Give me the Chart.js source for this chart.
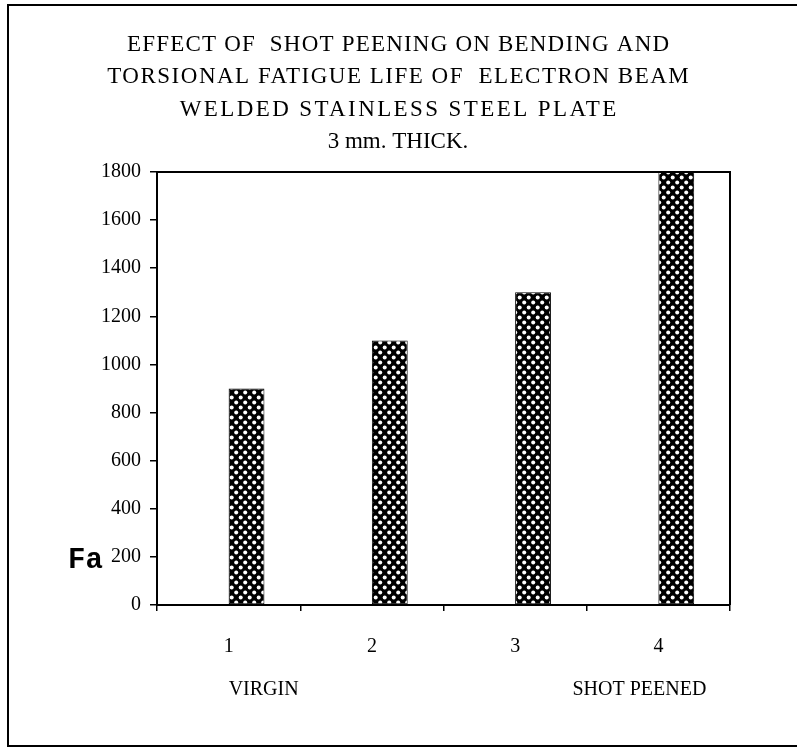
<!DOCTYPE html>
<html>
<head>
<meta charset="utf-8">
<title>Shot peening fatigue life</title>
<script src="https://cdn.jsdelivr.net/npm/chart.js@4.4.0/dist/chart.umd.min.js"></script>
<style>
  html, body { margin: 0; padding: 0; background: #fff; }
  #wrap { width: 797px; height: 748px; position: relative; }
</style>
</head>
<body>
<div id="wrap"><canvas id="peenChart"></canvas></div>
<script>
/* =========================================
   DATA
   ========================================= */
const categories = ['1', '2', '3', '4'];
const groupNotes = ['VIRGIN', '', '', 'SHOT PEENED'];
const blankSeries = [null, null, null, null];   // empty first series (leaves the gap left of each bar)
const fatigueLife = [900, 1100, 1300, 1800];
const yMin = 0;
const yMax = 1800;
const yStep = 200;
const titleLines = [
  'EFFECT OF  SHOT PEENING ON BENDING AND',
  'TORSIONAL FATIGUE LIFE OF  ELECTRON BEAM',
  'WELDED STAINLESS STEEL PLATE',
  '3 mm. THICK.'
];
const yAxisLabel = 'Fa';

const SERIF = "'Liberation Serif', 'Times New Roman', serif";

/* =========================================
   DOTTED FILL (black with white dots)
   ========================================= */
function makeDotPattern() {
  const tile = document.createElement('canvas');
  tile.width = 9;
  tile.height = 10;
  const g = tile.getContext('2d');
  g.fillStyle = '#000';
  g.fillRect(0, 0, 9, 10);
  g.fillStyle = '#fff';
  [[2.2, 2.5], [6.7, 7.5]].forEach(([x, y]) => {
    g.beginPath();
    g.arc(x, y, 2.0, 0, Math.PI * 2);
    g.fill();
  });
  return g.createPattern(tile, 'repeat');
}

/* =========================================
   EXTRA DRAWING (frame, title, Fa, group notes)
   ========================================= */
const paperFrame = {
  id: 'paperFrame',
  beforeDraw(chart) {
    const ctx = chart.ctx;
    ctx.save();
    ctx.fillStyle = '#fff';
    ctx.fillRect(0, 0, chart.width, chart.height);
    ctx.strokeStyle = '#000';
    ctx.lineWidth = 2;
    ctx.beginPath();
    ctx.moveTo(chart.width, 5);
    ctx.lineTo(8, 5);
    ctx.lineTo(8, 746);
    ctx.lineTo(chart.width, 746);
    ctx.stroke();
    ctx.restore();
  },
  afterDraw(chart) {
    const ctx = chart.ctx;
    const a = chart.chartArea;
    const xs = chart.scales.x;
    ctx.save();
    // top and right edges of the plot box
    ctx.strokeStyle = '#000';
    ctx.lineWidth = 2;
    ctx.beginPath();
    ctx.moveTo(a.left, a.top);
    ctx.lineTo(a.right, a.top);
    ctx.lineTo(a.right, a.bottom);
    ctx.stroke();

    // title, the scanned original is a little stretched on the capital lines
    ctx.fillStyle = '#000';
    ctx.textAlign = 'center';
    ctx.textBaseline = 'middle';
    ctx.font = '23px ' + SERIF;
    const spacing = [1.2, 1.5, 2.4, 0];
    titleLines.forEach((line, i) => {
      ctx.letterSpacing = spacing[i] + 'px';
      ctx.fillText(line, 398 + spacing[i] / 2, 45 + i * 32.4);
    });
    ctx.letterSpacing = '0px';

    // value axis name, horizontal
    ctx.font = "bold 29px 'Liberation Mono', 'Courier New', monospace";
    ctx.textAlign = 'left';
    ctx.fillText(yAxisLabel, 68, 561);

    // group notes below the category numbers
    ctx.font = '20px ' + SERIF;
    groupNotes.forEach((note, i) => {
      if (!note) return;
      const cx = xs.getPixelForValue(i);
      if (i === 0) {
        ctx.textAlign = 'left';
        ctx.fillText(note, cx, 690);
      } else {
        ctx.textAlign = 'right';
        ctx.fillText(note, cx + 48, 690);
      }
    });
    ctx.restore();
  }
};

/* =========================================
   CHART
   ========================================= */
const dots = makeDotPattern();

new Chart(document.getElementById('peenChart'), {
  type: 'bar',
  data: {
    labels: categories,
    datasets: [
      {
        label: 'blank',
        data: blankSeries,
        backgroundColor: 'rgba(0,0,0,0)',
        borderWidth: 0
      },
      {
        label: 'Fa',
        data: fatigueLife,
        backgroundColor: dots,
        borderColor: '#000',
        borderWidth: 1,
        borderSkipped: false
      }
    ]
  },
  options: {
    responsive: true,
    maintainAspectRatio: false,
    animation: false,
    devicePixelRatio: 1,
    categoryPercentage: 0.5,
    barPercentage: 1.0,
    layout: { padding: { top: 172, left: 20, right: 67, bottom: 83 } },
    plugins: {
      legend: { display: false },
      tooltip: { enabled: false },
      title: { display: false }
    },
    scales: {
      x: {
        ticks: { color: '#000', font: { family: SERIF, size: 20 }, padding: 24 },
        grid: { offset: true, drawOnChartArea: false, drawTicks: true, tickLength: 6, color: '#000', lineWidth: 1.5 },
        border: { display: true, color: '#000', width: 2 },
        afterFit: s => { s.height = 60; }
      },
      y: {
        min: yMin,
        max: yMax,
        ticks: {
          stepSize: yStep,
          color: '#000',
          font: { family: SERIF, size: 20 },
          padding: 9,
          callback: v => String(v)
        },
        grid: { drawOnChartArea: false, drawTicks: true, tickLength: 7, color: '#000', lineWidth: 1.5 },
        border: { display: true, color: '#000', width: 2 },
        afterFit: s => { s.width = 137; }
      }
    }
  },
  plugins: [paperFrame]
});
</script>
</body>
</html>
